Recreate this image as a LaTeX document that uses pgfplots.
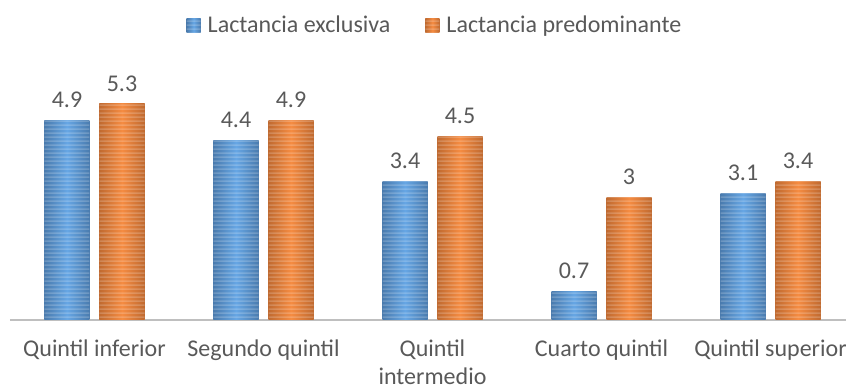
\documentclass[border=0pt]{standalone}
\usepackage{pgfplots}
\pgfplotsset{compat=1.18}
\usepackage{fontspec}
\setmainfont{Carlito}
\usetikzlibrary{patterns.meta}

\definecolor{txt}{HTML}{595959}
\definecolor{axisgray}{HTML}{BFBFBF}
\definecolor{blueEdge}{HTML}{4A7BAE}
\definecolor{blueMid}{HTML}{66A6E4}
\definecolor{orangeEdge}{HTML}{C06A30}
\definecolor{orangeMid}{HTML}{F58C42}

% thin horizontal stripes laid over the shaded bars (one wide tile, no seams)
\tikzdeclarepattern{
  name=hstripes,
  type=uncolored,
  bottom left={(0pt,0pt)},
  top right={(900pt,4pt)},
  tile size={(900pt,4pt)},
  code={\pgfpathrectangle{\pgfpoint{0pt}{0pt}}{\pgfpoint{900pt}{2pt}}\pgfusepath{fill}}
}

\tikzset{
  stripedbar/.style 2 args={
    draw=none,
    left color=#1, right color=#1, middle color=#2,
    postaction={pattern=hstripes, pattern color=white, fill opacity=0.75}
  },
  lbl/.style={font=\fontsize{24}{28}\selectfont, text=txt},
  excl/.style={stripedbar={blueEdge}{blueMid}},
  pred/.style={stripedbar={orangeEdge}{orangeMid}},
}

\begin{document}
\begin{tikzpicture}[x=1pt,y=1pt]
\useasboundingbox (0,0) rectangle (846,390);
\clip (0,0) rectangle (846,390);
\begin{axis}[
  at={(10pt,70pt)}, anchor=south west,
  scale only axis, width=845pt, height=244.8pt,
  xmin=-0.5, xmax=4.5, ymin=0, ymax=6,
  clip=false,
  ybar, bar width=45pt,
  axis y line=none, axis x line*=bottom,
  x axis line style={draw=axisgray, line width=2pt, -},
  xtick={0,...,4},
  xticklabels={Quintil inferior, Segundo quintil, {Quintil\\intermedio}, Cuarto quintil, Quintil superior},
  major tick length=0pt,
  xticklabel style={lbl, align=center, yshift=-16pt},
  nodes near coords={\pgfmathprintnumber[assume math mode=true]{\pgfplotspointmeta}},
  every node near coord/.append style={lbl, yshift=9pt},
  legend columns=2,
  legend style={draw=none, fill=none, lbl,
    at={(axis description cs:0.503,1.204)}, anchor=center,
    /tikz/every even column/.append style={column sep=33pt}},
  legend image code/.code={\path[#1] (0pt,-7pt) rectangle (14pt,7pt); \path (19pt,0pt);},
]
% each bar is its own plot so that every bar gets its own left-to-right shading
\addplot[bar shift=-27.5pt, excl] coordinates {(0,4.9)};
\addlegendentry{Lactancia exclusiva}
\addplot[bar shift=27.5pt, pred] coordinates {(0,5.3)};
\addlegendentry{Lactancia predominante}
\addplot[bar shift=-27.5pt, excl, forget plot] coordinates {(1,4.4)};
\addplot[bar shift=-27.5pt, excl, forget plot] coordinates {(2,3.4)};
\addplot[bar shift=-27.5pt, excl, forget plot] coordinates {(3,0.7)};
\addplot[bar shift=-27.5pt, excl, forget plot] coordinates {(4,3.1)};
\addplot[bar shift=27.5pt, pred, forget plot] coordinates {(1,4.9)};
\addplot[bar shift=27.5pt, pred, forget plot] coordinates {(2,4.5)};
\addplot[bar shift=27.5pt, pred, forget plot] coordinates {(3,3)};
\addplot[bar shift=27.5pt, pred, forget plot] coordinates {(4,3.4)};
\end{axis}
\end{tikzpicture}
\end{document}
